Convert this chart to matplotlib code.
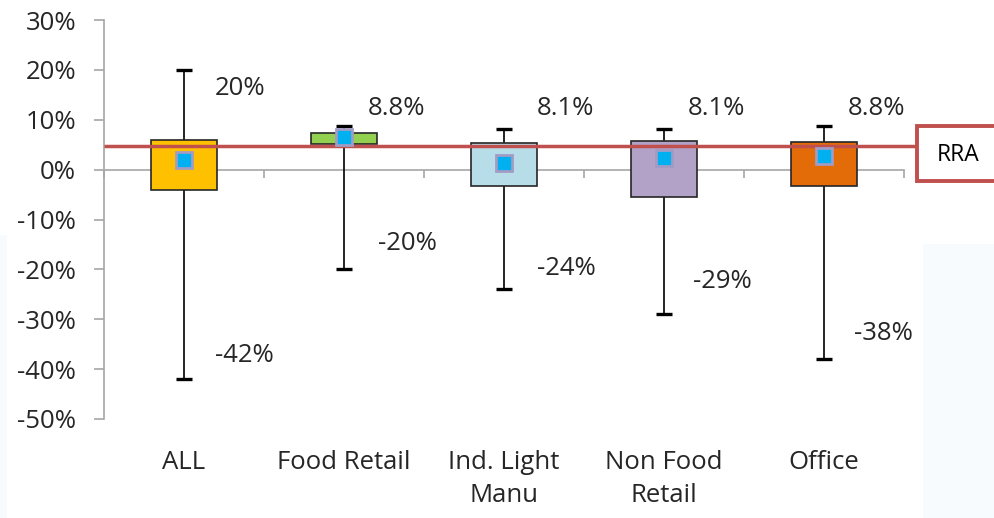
import matplotlib
matplotlib.use("Agg")
import matplotlib.pyplot as plt
from matplotlib.patches import Rectangle
from matplotlib.ticker import FuncFormatter, FixedLocator
from matplotlib.transforms import blended_transform_factory

plt.rcParams['font.family'] = ['Open Sans', 'DejaVu Sans']

# Return distribution by sector (%)
categories = ["ALL", "Food Retail", "Ind. Light\nManu", "Non Food\nRetail", "Office"]
whisker_high = [20.0, 8.8, 8.1, 8.1, 8.8]
whisker_low = [-42.0, -20.0, -24.0, -29.0, -38.0]
box_high = [5.9, 7.4, 5.4, 5.8, 5.6]
box_low = [-4.0, 5.2, -3.2, -5.4, -3.2]
means = [2.0, 6.6, 1.4, 2.4, 2.8]
high_labels = ["20%", "8.8%", "8.1%", "8.1%", "8.8%"]
low_labels = ["-42%", "-20%", "-24%", "-29%", "-38%"]
rra = 4.8
yticks = [30, 20, 10, 0, -10, -20, -30, -40, -50]

box_colors = ["#FFC000", "#92D050", "#B7DEE8", "#B3A2C7", "#E36C09"]
axis_gray = "#A6A6A6"
red = "#C0504D"
text_color = "#262626"
fs = 18.5

fig = plt.figure(figsize=(9.95, 5.18), dpi=100)

# faint tinted strips at the figure edges
fig.patches.append(Rectangle((0, 0), 7 / 995, 1 - 235 / 518, transform=fig.transFigure,
                             facecolor="#F8FBFE", edgecolor="none", zorder=0))
fig.patches.append(Rectangle((923 / 995, 0), 72 / 995, 1 - 244 / 518, transform=fig.transFigure,
                             facecolor="#F8FBFE", edgecolor="none", zorder=0))

ax = fig.add_axes([104 / 995, 1 - 419 / 518, 800 / 995, 399 / 518])
ax.patch.set_alpha(0)

x = list(range(len(categories)))
box_w = 0.41
cap = 0.047

# whiskers with caps
ax.vlines(x, whisker_low, whisker_high, color="black", lw=1.2, zorder=2)
ax.hlines(whisker_high, [i - cap for i in x], [i + cap for i in x], color="black", lw=2.4, zorder=2)
ax.hlines(whisker_low, [i - cap for i in x], [i + cap for i in x], color="black", lw=2.4, zorder=2)

# boxes
ax.bar(x, [h - l for h, l in zip(box_high, box_low)], bottom=box_low, width=box_w,
       color=box_colors, edgecolor="#262626", linewidth=1.2, zorder=3)

# means
ax.plot(x, means, linestyle="none", marker="s", markersize=11.5,
        markerfacecolor="#00B0F0", markeredgecolor="#A29BC4", markeredgewidth=2, zorder=5)

# reference line extending past the plot into the label box
ax.plot([0, 1.015], [rra, rra], transform=blended_transform_factory(ax.transAxes, ax.transData),
        color=red, lw=2.5, clip_on=False, zorder=4, solid_capstyle="butt")
fig.patches.append(Rectangle((917 / 995, 1 - 181 / 518), 90 / 995, 55 / 518,
                             transform=fig.transFigure, facecolor="white",
                             edgecolor=red, linewidth=2.8, zorder=5))
fig.text(958 / 995, 1 - 155 / 518, "RRA", ha="center", va="center", fontsize=16.5,
         color="black", zorder=6)

# value labels (left edge offset from the category centre, vertical position in %)
high_pos = [(0.194, 16.2), (0.15, 12.3), (0.206, 12.3), (0.15, 12.3), (0.15, 12.3)]
low_pos = [(0.194, -37.2), (0.21, -14.8), (0.206, -19.8), (0.18, -22.4), (0.19, -32.8)]
for i in x:
    dx, y = high_pos[i]
    ax.text(i + dx, y, high_labels[i], fontsize=fs, color=text_color, ha="left", va="center")
    dx, y = low_pos[i]
    ax.text(i + dx, y, low_labels[i], fontsize=fs, color=text_color, ha="left", va="center")

ax.set_xlim(-0.5, 4.5)
ax.set_ylim(-50, 30)
ax.set_yticks(yticks)
ax.yaxis.set_major_formatter(FuncFormatter(lambda v, p: f"{v:.0f}%"))
ax.tick_params(axis="y", direction="out", length=7, color=axis_gray, width=1.2,
               labelsize=fs, labelcolor=text_color, pad=13)

ax.spines["top"].set_visible(False)
ax.spines["right"].set_visible(False)
ax.spines["left"].set_color(axis_gray)
ax.spines["left"].set_linewidth(1.2)
ax.spines["bottom"].set_position(("data", 0))
ax.spines["bottom"].set_color(axis_gray)
ax.spines["bottom"].set_linewidth(1.2)
ax.spines["bottom"].set_zorder(1)
ax.xaxis.set_major_locator(FixedLocator([-0.5, 0.5, 1.5, 2.5, 3.5, 4.5]))
ax.set_xticklabels([])
ax.tick_params(axis="x", direction="out", length=6, color=axis_gray, width=1.2)

# category labels below the plot area
xt = blended_transform_factory(ax.transData, ax.transAxes)
for i, c in enumerate(categories):
    ax.annotate(c, (i, 0), xycoords=xt, xytext=(0, -22), textcoords="offset points",
                ha="center", va="top", fontsize=fs, color=text_color, linespacing=1.42)

fig.savefig("out.png", dpi=100)
